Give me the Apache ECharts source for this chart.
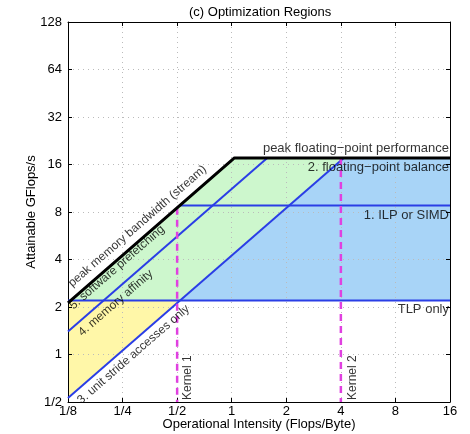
<!DOCTYPE html>
<html>
<head>
<meta charset="utf-8">
<script src="https://cdn.jsdelivr.net/npm/echarts@6/dist/echarts.min.js"></script>
<style>html,body{margin:0;padding:0;background:#fff;}#c{width:470px;height:434px;}</style>
</head>
<body>
<div id="c"></div>
<script>
// ---- data ----
const xTicks = [0.125, 0.25, 0.5, 1, 2, 4, 8, 16];
const yTicks = [0.5, 1, 2, 4, 8, 16, 32, 64, 128];
const roofX = [0.125, 1.035, 16];          // peak bandwidth + peak flops
const roofY = [2.125, 17.6, 17.6];
const prefetchX = [0.125, 1.57];            // software prefetching ceiling
const prefetchY = [1.4, 17.6];
const strideX = [0.125, 4.15];              // unit stride ceiling
const strideY = [0.53, 17.6];
const fpBalanceX = [0.518, 16];             // horizontal ceiling
const fpBalanceY = [8.8, 8.8];
const tlpX = [0.125, 16];
const tlpY = [2.2, 2.2];
const kernel1X = [0.5, 0.5];
const kernel1Y = [8.5, 0.5];
const kernel2X = [4, 4];
const kernel2Y = [17.6, 0.5];
const yellowX = [0.125, 0.519, 0.125];
const yellowY = [2.2, 2.2, 0.53];
const greenX = [0.1294, 1.035, 4.15, 0.519];
const greenY = [2.2, 17.6, 17.6, 2.2];
const blueX = [0.519, 4.15, 16, 16];
const blueY = [2.2, 17.6, 17.6, 2.2];
const diagLabels = ['peak memory bandwidth (stream)', '5. software prefetching', '4. memory affinity', '3. unit stride accesses only'];
const diagLabelX = [0.302, 0.233, 0.229, 0.2874];
const diagLabelY = [6.5, 3.56, 2.12, 1.0];
const rightLabels = ['peak floating\u2212point performance', '2. floating\u2212point balance', '1. ILP or SIMD', 'TLP only'];
const rightLabelY = [20.3, 15.4, 7.66, 1.92];
const kernelLabels = ['Kernel 1', 'Kernel 2'];
const kernelLabelX = [0.571, 4.66];
const kernelLabelY = [0.515, 0.515];

const zip = (a, b) => a.map((v, i) => [v, b[i]]);
const fmt = v => v < 1 ? '1/' + Math.round(1 / v) : String(Math.round(v));
const FONT = 'Liberation Sans, Arial, Helvetica, sans-serif';
const FS = 13;

function polySeries(xs, ys, color) {
  return {
    type: 'custom', z: -1, silent: true,
    data: [0],
    renderItem: function (params, api) {
      const pts = xs.map((x, i) => api.coord([x, ys[i]]));
      return { type: 'polygon', shape: { points: pts }, style: { fill: color, stroke: 'none' } };
    }
  };
}
function lineSeries(xs, ys, color, width, dash) {
  return {
    type: 'line', data: zip(xs, ys), symbol: 'none', silent: true,
    lineStyle: { color: color, width: width, type: dash || 'solid', cap: 'butt' }, z: 3
  };
}

const chart = echarts.init(document.getElementById('c'), null, { renderer: 'canvas' });
const axisCommon = {
  type: 'log', logBase: 2,
  axisLine: { show: true, lineStyle: { color: '#000', width: 1 } },
  axisTick: { show: true, inside: true, length: 4, lineStyle: { color: '#000' } },
  minorTick: { show: false },
  nameMoveOverlap: false
};
chart.setOption({
  animation: false,
  title: {
    text: '(c) Optimization Regions', left: 184, top: 1,
    textStyle: { fontFamily: FONT, fontSize: FS, fontWeight: 'normal', color: '#000' }
  },
  grid: { left: 68, right: 20, top: 22, bottom: 32, containLabel: false, outerBoundsMode: 'none' },
  xAxis: [
    Object.assign({}, axisCommon, {
      min: xTicks[0], max: xTicks[xTicks.length - 1], splitNumber: 7, position: 'bottom',
      name: 'Operational Intensity (Flops/Byte)', nameLocation: 'middle', nameGap: 16,
      nameTextStyle: { fontFamily: FONT, fontSize: FS, color: '#000' },
      axisLabel: { formatter: fmt, fontFamily: FONT, fontSize: FS, color: '#000', margin: 3 },
      splitLine: { show: true, lineStyle: { color: '#bbb', type: [1, 4], width: 1 } }
    }),
    Object.assign({}, axisCommon, {
      min: xTicks[0], max: xTicks[xTicks.length - 1], splitNumber: 7, position: 'top',
      axisLabel: { show: false }, splitLine: { show: false }
    })
  ],
  yAxis: [
    Object.assign({}, axisCommon, {
      min: yTicks[0], max: yTicks[yTicks.length - 1], splitNumber: 8, position: 'left',
      name: 'Attainable GFlops/s', nameLocation: 'middle', nameGap: 30,
      nameTextStyle: { fontFamily: FONT, fontSize: FS, color: '#000' },
      axisLabel: { formatter: fmt, fontFamily: FONT, fontSize: FS, color: '#000', margin: 6 },
      splitLine: { show: true, lineStyle: { color: '#bbb', type: [1, 4], width: 1 } }
    }),
    Object.assign({}, axisCommon, {
      min: yTicks[0], max: yTicks[yTicks.length - 1], splitNumber: 8, position: 'right',
      axisLabel: { show: false }, splitLine: { show: false }
    })
  ],
  series: [
    polySeries(yellowX, yellowY, '#fff7a8'),
    polySeries(greenX, greenY, '#cdf7cd'),
    polySeries(blueX, blueY, '#a8d4f7'),
    lineSeries(tlpX, tlpY, '#2a3ee6', 2),
    lineSeries(fpBalanceX, fpBalanceY, '#2a3ee6', 2),
    lineSeries(prefetchX, prefetchY, '#2a3ee6', 2),
    lineSeries(strideX, strideY, '#2a3ee6', 2),
    lineSeries(kernel1X, kernel1Y, '#e040e0', 2.5, [7, 5]),
    lineSeries(kernel2X, kernel2Y, '#e040e0', 2.5, [7, 5]),
    lineSeries(roofX, roofY, '#000', 3),
    {
      type: 'scatter', symbolSize: 0, silent: true, z: 5,
      data: diagLabels.map((t, i) => ({ value: [diagLabelX[i], diagLabelY[i]], name: t })),
      label: {
        show: true, formatter: p => p.name, position: [0, 0], rotate: 41,
        align: 'center', verticalAlign: 'middle',
        fontFamily: FONT, fontSize: 12, color: '#000'
      }
    },
    {
      type: 'scatter', symbolSize: 0, silent: true, z: 5,
      data: rightLabels.map((t, i) => ({ value: [xTicks[xTicks.length - 1], rightLabelY[i]], name: t })),
      label: {
        show: true, formatter: p => p.name, position: [-1, 0],
        align: 'right', verticalAlign: 'middle',
        fontFamily: FONT, fontSize: FS, color: '#000'
      }
    },
    {
      type: 'scatter', symbolSize: 0, silent: true, z: 5,
      data: kernelLabels.map((t, i) => ({ value: [kernelLabelX[i], kernelLabelY[i]], name: t })),
      label: {
        show: true, formatter: p => p.name, position: [0, 0], rotate: 90,
        align: 'left', verticalAlign: 'middle',
        fontFamily: FONT, fontSize: 12, color: '#000'
      }
    }
  ]
});
</script>
</body>
</html>
